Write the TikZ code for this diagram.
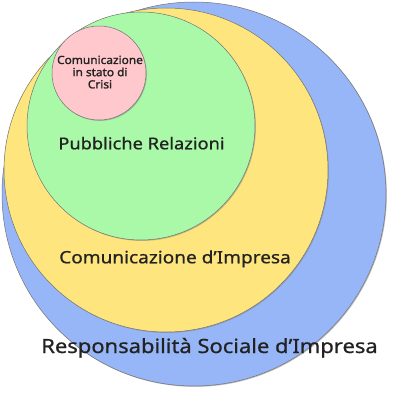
\documentclass[tikz,border=0pt]{standalone}
\usepackage{fontspec}
\setmainfont{Noto Sans}[FakeStretch=1.12,FakeBold=0.7]
\newfontfamily\crisifont{Noto Sans}[FakeStretch=1.06,FakeBold=1.6]
\usetikzlibrary{shadows}
\definecolor{rsiblue}{HTML}{97B6F8}
\definecolor{ciyellow}{HTML}{FEE57D}
\definecolor{prgreen}{HTML}{A9F9A9}
\definecolor{crisipink}{HTML}{FEC8CC}
\definecolor{labgray}{HTML}{222222}
\begin{document}
\begin{tikzpicture}[x=1pt,y=-1pt,
    ring/.style={shape=circle,draw=black!55,line width=0.5pt,inner sep=0pt,
      drop shadow={shadow xshift=0.9pt,shadow yshift=-0.9pt,opacity=0.5}},
    lab/.style={text=labgray,anchor=base,inner sep=0pt}]
    \useasboundingbox (0,0) rectangle (402,404);

    \node[ring,fill=rsiblue,minimum size=384pt] (rsi) at (194,194) {};
    \node[ring,fill=ciyellow,minimum size=324pt] (ci) at (166,170) {};
    \node[ring,fill=prgreen,minimum size=228pt] (pr) at (141,126) {};
    \node[ring,fill=crisipink,minimum size=94pt] (crisi) at (99,73) {};

    \node[lab,font=\fontsize{19.6}{22}\selectfont] (rsi-t) at (209.5,353) {Responsabilità Sociale d’Impresa};
    \node[lab,font=\fontsize{17}{20}\selectfont] (ci-t) at (175,263.3) {Comunicazione d’Impresa};
    \node[lab,font=\fontsize{16.3}{19}\selectfont] (pr-t) at (141.5,149.3) {Pubbliche Relazioni};
    \node[lab,font=\crisifont\fontsize{11.2}{12.2}\selectfont,align=center,anchor=north] (crisi-t) at (100,55.5)
      {Comunicazione\\in stato di\\Crisi};

  \end{tikzpicture}
\end{document}
